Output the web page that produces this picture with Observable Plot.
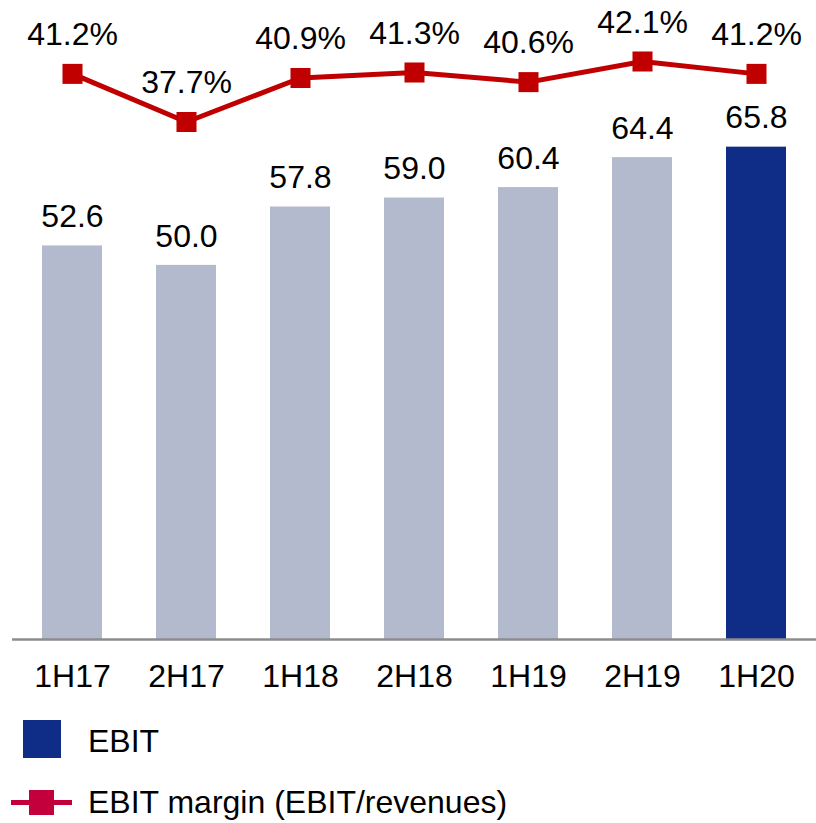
<!DOCTYPE html>
<html>
<head>
<meta charset="utf-8">
<script src="https://cdn.jsdelivr.net/npm/d3@7"></script>
<script src="https://cdn.jsdelivr.net/npm/@observablehq/plot@0.6"></script>
<style>
  body { margin: 0; background: #fff; font-family: "Liberation Sans", Arial, sans-serif; }
  #wrap { position: relative; width: 816px; height: 823px; }
  .lg { position: absolute; }
  .lgtext { position: absolute; font-size: 32px; line-height: 32px; color: #000; white-space: nowrap; }
</style>
</head>
<body>
<div id="wrap"></div>
<script>
const periods = ["1H17", "2H17", "1H18", "2H18", "1H19", "2H19", "1H20"];
const ebit = [52.6, 50.0, 57.8, 59.0, 60.4, 64.4, 65.8];
const ebitMargin = [41.2, 37.7, 40.9, 41.3, 40.6, 42.1, 41.2];
const legendLabels = ["EBIT", "EBIT margin (EBIT/revenues)"];

const GREY = "#B4BACD", NAVY = "#0F2D87", RED = "#C00000", CRIMSON = "#C4003C";

const H = 700, MB = 61, YMAX = 85.4;
const baseline = H - MB;
const k = baseline / YMAX;
// secondary (margin) axis mapped into the primary y units
const marginToY = d3.scaleLinear()
  .domain([37.7, 42.1])
  .range([(baseline - 121.5) / k, (baseline - 61) / k]);

const data = periods.map((p, i) => ({
  period: p, ebit: ebit[i], margin: ebitMargin[i], my: marginToY(ebitMargin[i]),
  highlight: i === periods.length - 1
}));

const chart = Plot.plot({
  width: 816, height: H,
  marginLeft: 12, marginRight: 0, marginTop: 0, marginBottom: MB,
  style: { fontFamily: "'Liberation Sans', Arial, sans-serif", fontSize: "32px", color: "#000", background: "#fff" },
  x: { domain: periods, paddingInner: 0.47, paddingOuter: 0.235, label: null },
  y: { domain: [0, YMAX], axis: null },
  marks: [
    Plot.barY(data, { x: "period", y: "ebit", fill: d => d.highlight ? NAVY : GREY }),
    Plot.ruleY([0], { stroke: "#8c8c8c", strokeWidth: 2.5 }),
    Plot.axisX({ tickSize: 0, tickPadding: 25, fontSize: 32, label: null }),
    Plot.text(data, { x: "period", y: "ebit", text: d => d.ebit.toFixed(1), dy: -29, fontSize: 32, fill: "#000" }),
    Plot.line(data, { x: "period", y: "my", stroke: RED, strokeWidth: 5 }),
    Plot.dot(data, { x: "period", y: "my", symbol: "square", r: 11.3, fill: RED, stroke: "none" }),
    Plot.text(data, { x: "period", y: "my", text: d => d.margin.toFixed(1) + "%", dy: -39, fontSize: 32, fill: "#000" })
  ]
});
chart.style.position = "absolute";
chart.style.left = "0px";
chart.style.top = "0px";
const wrap = document.getElementById("wrap");
wrap.appendChild(chart);

// legend
const legendHTML = `
  <div class="lg" style="left:23px;top:720px;width:38px;height:38px;background:${NAVY}"></div>
  <div class="lgtext" style="left:88px;top:725px">${legendLabels[0]}</div>
  <div class="lg" style="left:11px;top:800px;width:61px;height:5px;background:${CRIMSON}"></div>
  <div class="lg" style="left:29px;top:790px;width:25px;height:25px;background:${CRIMSON}"></div>
  <div class="lgtext" style="left:88px;top:786px">${legendLabels[1]}</div>
`;
const lg = document.createElement("div");
lg.innerHTML = legendHTML;
wrap.appendChild(lg);
</script>
</body>
</html>
